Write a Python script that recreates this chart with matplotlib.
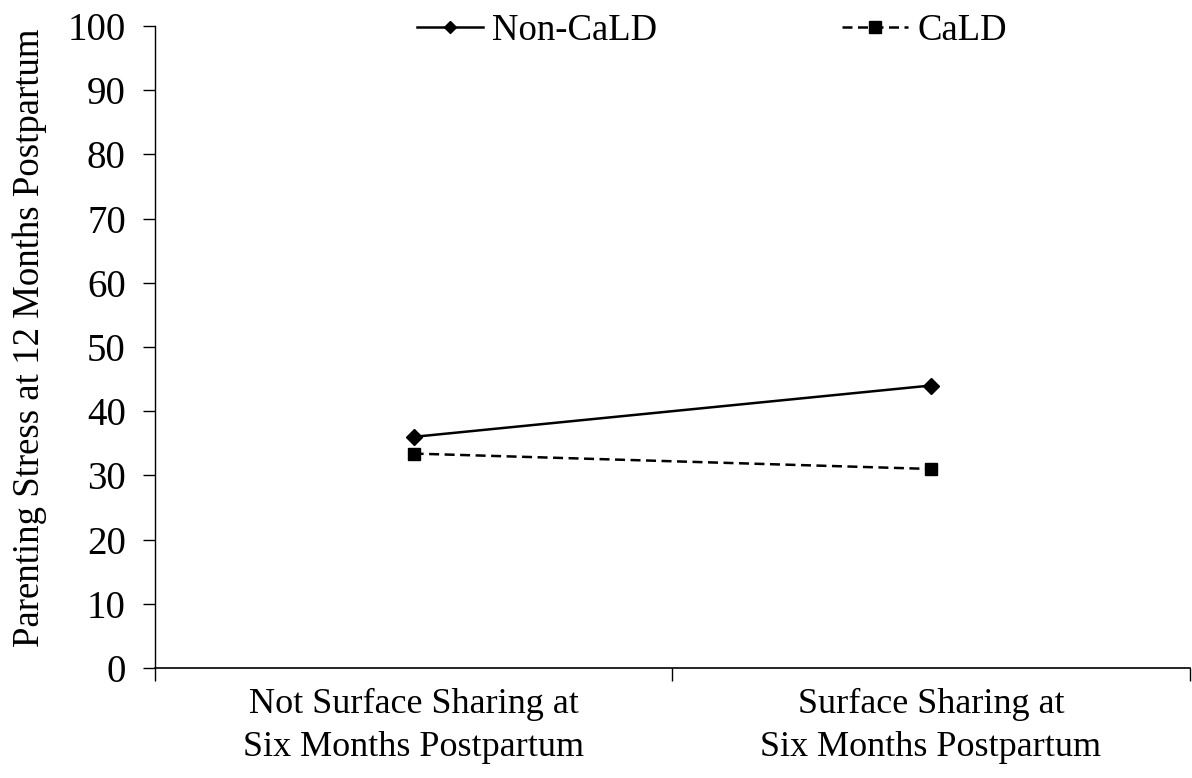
import numpy as np
import matplotlib.pyplot as plt

plt.rcParams["font.family"] = ["Liberation Serif", "DejaVu Serif"]

categories = ["Not Surface Sharing at\nSix Months Postpartum",
              "Surface Sharing at\nSix Months Postpartum"]
non_cald = [36.0, 44.0]
cald = [33.4, 31.0]

fig = plt.figure(figsize=(11.92, 7.78), dpi=100)
ax = fig.add_axes([0.130, 0.1414, 0.868, 0.8252])

x = np.array([0.5, 1.5])
ax.plot(x, non_cald, color="black", lw=1.8, marker="D", markersize=8.5,
        label="Non-CaLD")
ax.plot(x, cald, color="black", lw=1.8, ls=(0, (4, 2.2)), marker="s",
        markersize=8, label="CaLD")

ax.set_xlim(0, 2)
ax.set_ylim(0, 100)
ax.set_yticks(np.arange(0, 101, 10))
ax.set_xticks(x)
ax.set_xticklabels(categories, fontsize=26, linespacing=1.4)
ax.set_xticks([0, 1, 2], minor=True)
ax.tick_params(axis="x", which="major", length=0, pad=14)
ax.tick_params(axis="x", which="minor", length=9, width=1, direction="out")
ax.tick_params(axis="y", labelsize=28, length=9, width=1, direction="out", pad=12)

for sp in ["top", "right"]:
    ax.spines[sp].set_visible(False)
ax.spines["left"].set_linewidth(1)
ax.spines["bottom"].set_linewidth(1.2)

ax.set_ylabel("Parenting Stress at 12 Months Postpartum", fontsize=26.5)
ax.yaxis.set_label_coords(-0.104, 0.515)

leg = fig.legend(loc="upper left", bbox_to_anchor=(417 / 1192, 0.983), ncol=2,
                 frameon=False, fontsize=26.5, handlelength=1.8, handletextpad=0.25,
                 columnspacing=5.0, borderpad=0, borderaxespad=0)
leg.legend_handles[0].set_markersize(6.5)
leg.legend_handles[1].set_markersize(8)

fig.savefig("out.png", dpi=100)
